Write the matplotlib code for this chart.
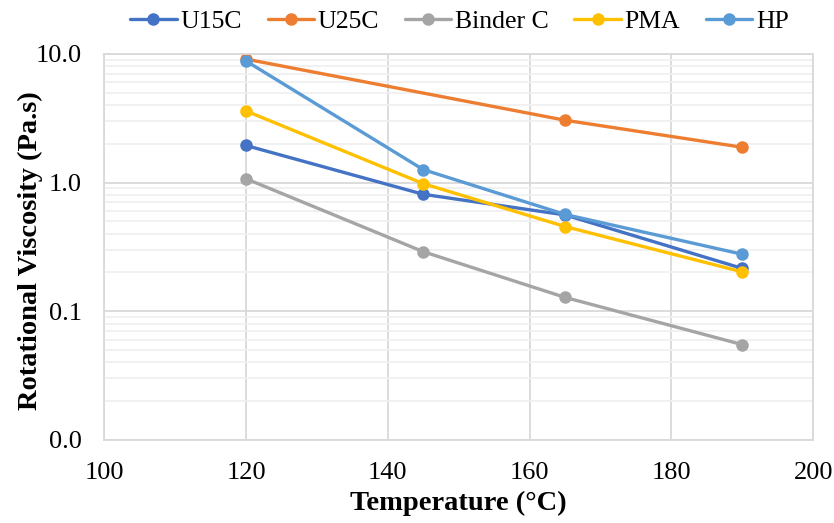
import matplotlib
matplotlib.use("Agg")
import matplotlib.pyplot as plt
from matplotlib.ticker import FixedLocator, LogLocator, FuncFormatter, NullFormatter

temps = [120, 145, 165, 190]
u15c = [1.94, 0.81, 0.56, 0.215]
u25c = [9.1, None, 3.05, 1.88]
binder_c = [1.07, 0.29, 0.128, 0.055]
pma = [3.6, 0.98, 0.455, 0.202]
hp = [8.8, 1.26, 0.565, 0.277]

series = [
    ("U15C", u15c, "#4472C4"),
    ("U25C", u25c, "#ED7D31"),
    ("Binder C", binder_c, "#A5A5A5"),
    ("PMA", pma, "#FFC000"),
    ("HP", hp, "#5B9BD5"),
]

plt.rcParams["font.family"] = ["Liberation Serif", "DejaVu Serif"]

fig = plt.figure(figsize=(8.34, 5.23), dpi=100)
ax = fig.add_axes([0.125, 0.159, 0.850, 0.738])

for name, vals, color in series:
    xs = [t for t, v in zip(temps, vals) if v is not None]
    ys = [v for v in vals if v is not None]
    ax.plot(xs, ys, color=color, lw=2.4, marker="o", ms=8, label=name,
            solid_capstyle="round")

ax.set_yscale("log")
ax.set_ylim(0.01, 10)
ax.set_xlim(100, 200)
ax.xaxis.set_major_locator(FixedLocator([100, 120, 140, 160, 180, 200]))
ax.yaxis.set_major_locator(FixedLocator([0.01, 0.1, 1, 10]))
ax.yaxis.set_major_formatter(FuncFormatter(lambda v, p: f"{v:.1f}"))
ax.yaxis.set_minor_locator(LogLocator(base=10, subs=range(2, 10)))
ax.yaxis.set_minor_formatter(NullFormatter())

ax.grid(True, which="major", axis="both", color="#D9D9D9", lw=1.3)
ax.grid(True, which="minor", axis="y", color="#F0F0F0", lw=1.3)
ax.set_axisbelow(True)
for s in ax.spines.values():
    s.set_color("#D9D9D9")
    s.set_linewidth(1.3)
ax.tick_params(which="both", length=0, labelsize=19)
ax.tick_params(axis="x", pad=16)
ax.tick_params(axis="y", pad=16)

ax.set_xlabel("Temperature (°C)", fontsize=20.5, fontweight="bold", labelpad=5)
ax.set_ylabel("Rotational Viscosity (Pa.s)", fontsize=20.5, fontweight="bold")
ax.yaxis.set_label_coords(-0.087, 0.49)

fig.legend(loc="upper center", bbox_to_anchor=(0.551, 1.025), ncol=5, frameon=False,
           fontsize=18.5, handlelength=1.8, columnspacing=1.0, handletextpad=0.15)

fig.savefig("out.png", dpi=100)
